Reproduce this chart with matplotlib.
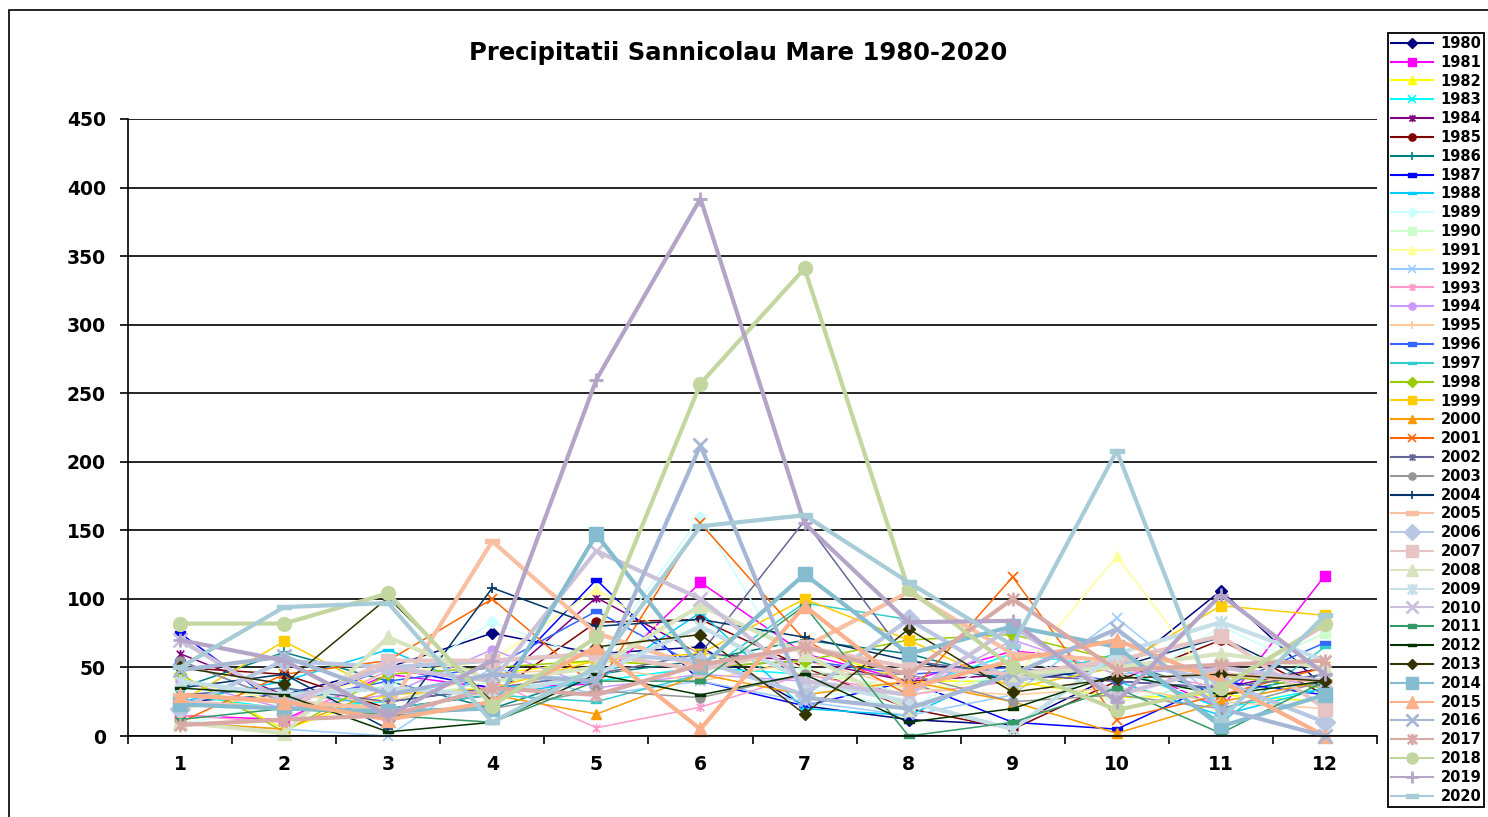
import matplotlib
matplotlib.use("Agg")
import matplotlib.pyplot as plt
from matplotlib.path import Path
from matplotlib.patches import Rectangle

# Monthly precipitation (mm), Sannicolau Mare
months = [1, 2, 3, 4, 5, 6, 7, 8, 9, 10, 11, 12]
month_labels = ["1", "2", "3", "4", "5", "6", "7", "8", "9", "10", "11", "12"]
y_ticks = [0, 50, 100, 150, 200, 250, 300, 350, 400, 450]

p1980 = [25, 30, 50, 75, 60, 65, 22, 12, 8, 45, 106, 35]
p1981 = [15, 12, 45, 35, 38, 112, 60, 40, 62, 55, 20, 117]
p1982 = [45, 5, 30, 45, 55, 50, 65, 40, 40, 28, 30, 25]
p1983 = [30, 20, 25, 35, 40, 50, 45, 35, 60, 50, 20, 35]
p1984 = [60, 30, 25, 35, 101, 60, 55, 40, 45, 40, 35, 50]
p1985 = [50, 45, 20, 30, 83, 85, 50, 20, 5, 40, 70, 30]
p1986 = [35, 61, 40, 20, 45, 55, 70, 60, 40, 55, 30, 45]
p1987 = [75, 20, 50, 35, 114, 40, 22, 40, 10, 5, 40, 30]
p1988 = [25, 40, 63, 30, 40, 90, 20, 15, 50, 40, 15, 35]
p1989 = [8, 25, 35, 83, 55, 160, 35, 20, 60, 30, 80, 45]
p1990 = [20, 30, 25, 40, 45, 60, 50, 30, 45, 25, 40, 75]
p1991 = [40, 25, 45, 55, 107, 60, 45, 35, 40, 131, 30, 40]
p1992 = [10, 5, 0, 50, 30, 40, 25, 15, 30, 86, 25, 40]
p1993 = [15, 10, 48, 40, 6, 21, 45, 30, 40, 50, 35, 80]
p1994 = [40, 20, 30, 63, 35, 45, 40, 30, 70, 45, 50, 35]
p1995 = [20, 30, 25, 45, 50, 40, 55, 35, 30, 35, 25, 20]
p1996 = [55, 25, 40, 50, 91, 50, 55, 45, 50, 40, 35, 68]
p1997 = [30, 35, 20, 30, 25, 45, 97, 85, 40, 60, 10, 65]
p1998 = [45, 3, 45, 50, 55, 50, 55, 70, 74, 55, 44, 35]
p1999 = [25, 69, 30, 35, 55, 60, 100, 70, 35, 50, 95, 88]
p2000 = [10, 5, 35, 30, 16, 45, 30, 40, 25, 2, 25, 40]
p2001 = [10, 45, 55, 100, 35, 155, 70, 30, 116, 12, 30, 50]
p2002 = [30, 35, 25, 35, 45, 60, 157, 55, 45, 40, 35, 45]
p2003 = [55, 25, 15, 20, 33, 28, 45, 45, 25, 30, 20, 40]
p2004 = [35, 45, 5, 108, 80, 85, 72, 55, 40, 50, 72, 35]
p2005 = [30, 25, 20, 142, 75, 50, 65, 105, 60, 55, 45, 40]
p2006 = [20, 55, 50, 55, 60, 55, 30, 85, 40, 55, 40, 10]
p2007 = [25, 20, 55, 55, 60, 48, 65, 50, 45, 55, 73, 20]
p2008 = [10, 2, 72, 40, 50, 95, 60, 20, 45, 50, 60, 50]
p2009 = [40, 30, 35, 30, 45, 80, 40, 25, 5, 60, 83, 55]
p2010 = [70, 25, 50, 40, 135, 100, 40, 30, 80, 30, 50, 40]
p2011 = [12, 20, 15, 10, 40, 40, 95, 0, 10, 35, 2, 40]
p2012 = [35, 30, 3, 10, 45, 30, 45, 10, 20, 45, 30, 40]
p2013 = [50, 38, 101, 25, 65, 74, 16, 78, 32, 42, 45, 40]
p2014 = [23, 20, 18, 20, 147, 50, 118, 60, 80, 65, 7, 30]
p2015 = [30, 25, 12, 25, 65, 5, 95, 35, 55, 70, 40, 0]
p2016 = [48, 58, 30, 45, 40, 212, 28, 20, 45, 78, 20, 0]
p2017 = [8, 12, 15, 35, 30, 52, 65, 45, 100, 48, 52, 55]
p2018 = [82, 82, 104, 22, 72, 257, 341, 107, 50, 19, 35, 82]
p2019 = [70, 55, 15, 55, 260, 392, 155, 83, 84, 25, 103, 45]
p2020 = [50, 94, 97, 10, 50, 153, 161, 112, 66, 208, 12, 88]

years = list(range(1980, 2021))
series = [p1980, p1981, p1982, p1983, p1984, p1985, p1986, p1987, p1988, p1989,
          p1990, p1991, p1992, p1993, p1994, p1995, p1996, p1997, p1998, p1999,
          p2000, p2001, p2002, p2003, p2004, p2005, p2006, p2007, p2008, p2009,
          p2010, p2011, p2012, p2013, p2014, p2015, p2016, p2017, p2018, p2019,
          p2020]

colors = ["#000080", "#FF00FF", "#FFFF00", "#00FFFF", "#800080", "#800000",
          "#008080", "#0000FF", "#00CCFF", "#CCFFFF", "#CCFFCC", "#FFFF99",
          "#99CCFF", "#FF99CC", "#CC99FF", "#FFCC99", "#3366FF", "#33CCCC",
          "#99CC00", "#FFCC00", "#FF9900", "#FF6600", "#666699", "#969696",
          "#003366", "#F8BFA0", "#B9C7E3", "#E6C4C4", "#D7E4BD", "#C5DFE8",
          "#CCC1DA", "#339966", "#003300", "#333300", "#86BCD0", "#FAB08A",
          "#A6B7D6", "#D9A9A6", "#C4D6A0", "#B3A4C8", "#A7CBD7"]

# marker shapes
star = Path([(-1, -1), (1, 1), (-1, 1), (1, -1), (0, -1.2), (0, 1.2)],
            [Path.MOVETO, Path.LINETO, Path.MOVETO, Path.LINETO,
             Path.MOVETO, Path.LINETO])
dash = Path([(-1, -0.55), (1, -0.55), (1, 0.55), (-1, 0.55), (-1, -0.55)],
            [Path.MOVETO, Path.LINETO, Path.LINETO, Path.LINETO, Path.CLOSEPOLY])
bar = Path([(-1, -0.3), (1, -0.3), (1, 0.3), (-1, 0.3), (-1, -0.3)],
           [Path.MOVETO, Path.LINETO, Path.LINETO, Path.LINETO, Path.CLOSEPOLY])

markers = ["D", "s", "^", "x", star, "o", "+", dash, bar,
           "D", "s", "^", "x", star, "o", "+", dash, bar,
           "D", "s", "^", "x", star, "o", "+", bar,
           "D", "s", "^", star, "x", dash, bar,
           "D", "s", "^", "x", star, "o", "+", bar]

thick_years = set(list(range(2005, 2011)) + list(range(2014, 2021)))
line_markers = {"x", "+"}

plt.rcParams["font.family"] = ["DejaVu Sans"]
plt.rcParams["font.weight"] = "bold"

W, H = 1488, 817
fig = plt.figure(figsize=(W / 100, H / 100), dpi=100)

# chart frame
fig.patches.append(Rectangle((9 / W, -0.05), 1.1, 1 - 10 / H + 0.05,
                             transform=fig.transFigure, fill=False,
                             edgecolor="black", linewidth=1.2, zorder=0))

ax = fig.add_axes([128 / W, 1 - 736 / H, (1377 - 128) / W, (736 - 119) / H])
ax.set_facecolor("none")

lines = []
for yr, vals, col, mk in zip(years, series, colors, markers):
    thick = yr in thick_years
    lw = 3.0 if thick else 1.1
    ms = 10 if thick else 6.5
    if isinstance(mk, str) and mk in line_markers:
        mfc = col
        mew = 2.0 if thick else 1.2
    elif mk is star:
        mfc = "none"
        mew = 2.0 if thick else 1.2
    else:
        mfc = col
        mew = 1.0
    (ln,) = ax.plot(months, vals, color=col, linewidth=lw, marker=mk,
                    markersize=ms, markerfacecolor=mfc, markeredgecolor=col,
                    markeredgewidth=mew, label=str(yr), clip_on=False)
    lines.append(ln)

ax.set_xlim(0.5, 12.5)
ax.set_ylim(0, 450)
ax.set_yticks(y_ticks)
ax.set_yticklabels([str(v) for v in y_ticks], fontsize=13.5, fontweight="bold")
ax.set_xticks(months)
ax.set_xticklabels(month_labels, fontsize=13.5, fontweight="bold")
ax.set_xticks([m + 0.5 for m in [0] + months], minor=True)
ax.tick_params(axis="x", which="major", length=0, pad=14)
ax.tick_params(axis="x", which="minor", length=6, width=1.2, direction="out")
ax.tick_params(axis="y", which="major", length=6, width=1.2, direction="out", pad=10)
ax.yaxis.grid(True, color="black", linewidth=1.2)
ax.set_axisbelow(True)
for side in ["top", "right"]:
    ax.spines[side].set_visible(False)
for side in ["left", "bottom"]:
    ax.spines[side].set_linewidth(1.2)

fig.text(738 / W, 1 - 53 / H, "Precipitatii Sannicolau Mare 1980-2020",
         ha="center", va="center", fontsize=17.5, fontweight="bold")

leg = fig.legend(handles=lines, loc="upper left",
                 bbox_to_anchor=(1388 / W, 1 - 33 / H),
                 bbox_transform=fig.transFigure,
                 prop={"size": 10.5, "weight": "bold"},
                 handlelength=2.9, handletextpad=0.5, labelspacing=0.262,
                 borderpad=0.2, borderaxespad=0, fancybox=False,
                 edgecolor="black", framealpha=1, numpoints=1, markerscale=0.8)
leg.get_frame().set_linewidth(1.3)
for lh in leg.get_lines():
    lh.set_linewidth(1.5)

fig.savefig("out.png", dpi=100)
